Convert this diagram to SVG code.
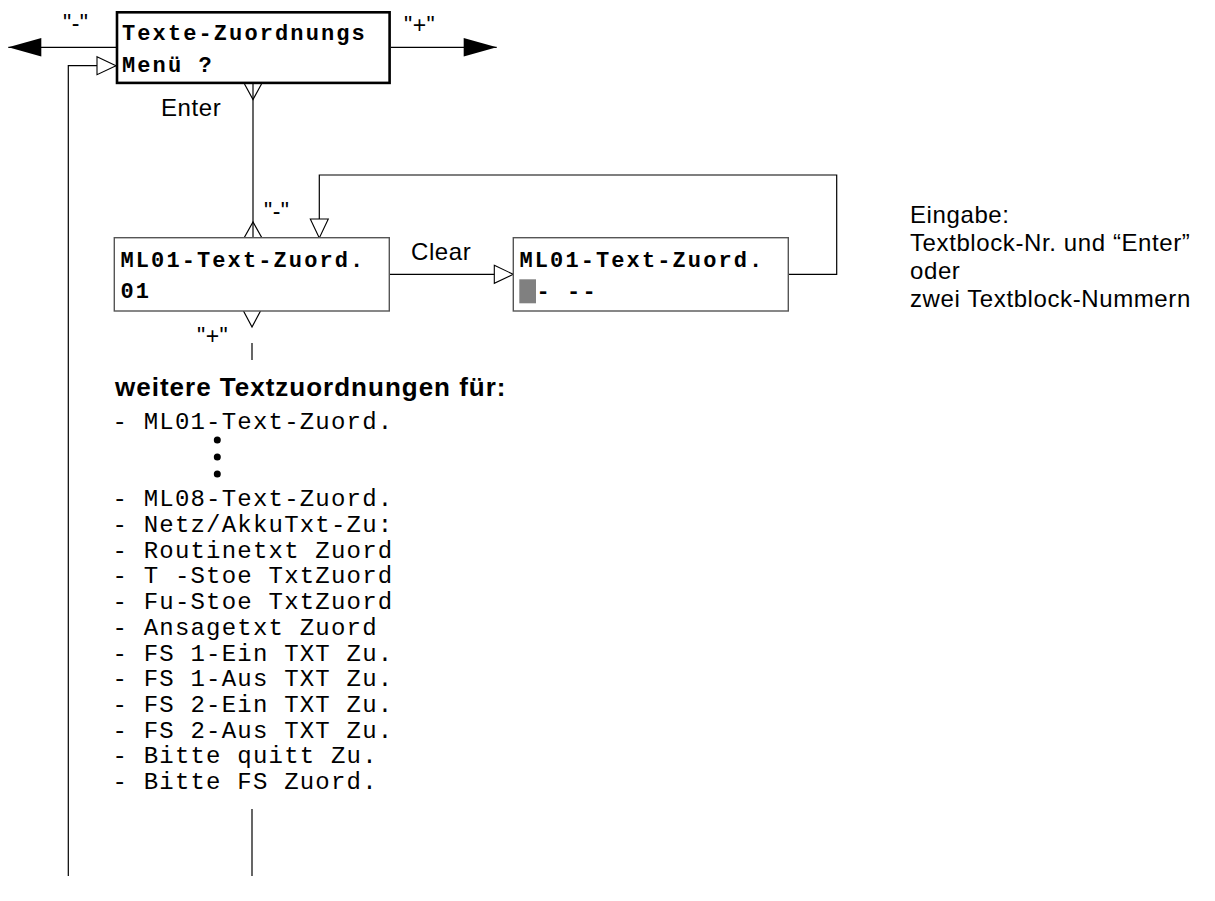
<svg xmlns="http://www.w3.org/2000/svg" width="1215" height="901" viewBox="0 0 1215 901">
<style>
.box{fill:#fff;stroke:#555;stroke-width:1.4}
.boxb{fill:#fff;stroke:#000;stroke-width:2.6}
.ln{fill:none;stroke:#000;stroke-width:1.2}
.mb{font-family:"Liberation Mono","Courier New",monospace;font-weight:bold;font-size:22px;letter-spacing:2.1px;fill:#000}
.mono{font-family:"Liberation Mono","Courier New",monospace;font-size:24px;letter-spacing:1.2px;fill:#000}
.sans{font-family:"Liberation Sans",Arial,sans-serif;font-size:24px;letter-spacing:0.6px;fill:#000}
.q{font-family:"Liberation Sans",Arial,sans-serif;font-size:23px;letter-spacing:0.5px;fill:#000}
</style>
<defs>
<marker id="open" markerUnits="userSpaceOnUse" markerWidth="22" markerHeight="22" refX="19" refY="9" orient="auto" overflow="visible">
<path d="M0,0 L19,9 L0,18 Z" fill="#fff" stroke="#000" stroke-width="1.1"/>
</marker>
<marker id="fill" markerUnits="userSpaceOnUse" markerWidth="36" markerHeight="22" refX="33" refY="9.2" orient="auto" overflow="visible">
<path d="M0,0 L33,9.2 L0,18.4 Z" fill="#000"/>
</marker>
</defs>
<g id="connectors">
<line class="ln" x1="116" y1="47.3" x2="8.3" y2="47.3" marker-end="url(#fill)"/>
<line class="ln" x1="391" y1="47.3" x2="496.7" y2="47.3" marker-end="url(#fill)"/>
<polyline class="ln" points="68.3,876 68.3,65.7 116,65.7" marker-end="url(#open)"/>
<line class="ln" x1="253" y1="84" x2="253" y2="238"/>
<path class="ln" d="M244.5,84 L253,99.5 L261.5,84"/>
<path class="ln" d="M244,238 L253,222 L262,238"/>
<path class="ln" d="M243.5,311 L252,327 L260.5,311"/>
<line class="ln" x1="252" y1="343" x2="252" y2="360"/>
<line class="ln" x1="389.3" y1="274.3" x2="513.3" y2="274.3" marker-end="url(#open)"/>
<polyline class="ln" points="788.3,274.3 836.7,274.3 836.7,175 319.3,175 319.3,238" marker-end="url(#open)"/>
<line class="ln" x1="252" y1="809" x2="252" y2="876"/>
</g>
<g id="menu">
<rect class="boxb" x="117" y="12.3" width="272.6" height="70.6"/>
<text class="mb" x="122" y="40">Texte-Zuordnungs</text>
<text class="mb" x="122" y="72">Menü ?</text>
</g>
<g id="zuord">
<rect class="box" x="114.3" y="237.7" width="275" height="73.3"/>
<text class="mb" x="120.5" y="266.5">ML01-Text-Zuord.</text>
<text class="mb" x="120.5" y="297.5">01</text>
</g>
<g id="zuord-edit">
<rect class="box" x="513.3" y="237.7" width="275" height="73.3"/>
<text class="mb" x="519.5" y="266.5">ML01-Text-Zuord.</text>
<rect x="519.3" y="279.3" width="16.7" height="24" fill="#808080"/>
<text class="mb" x="536.5" y="297.5" xml:space="preserve">- --</text>
</g>
<g id="labels">
<text class="q" x="63" y="31">"-"</text>
<text class="q" x="404" y="33">"+"</text>
<text class="sans" x="161" y="116">Enter</text>
<text class="q" x="264" y="219">"-"</text>
<text class="q" x="197" y="344">"+"</text>
<text class="sans" x="411" y="260">Clear</text>
</g>
<g id="note">
<text class="sans" x="910" y="223">Eingabe:</text>
<text class="sans" x="910" y="251">Textblock-Nr. und “Enter”</text>
<text class="sans" x="910" y="279">oder</text>
<text class="sans" x="910" y="307">zwei Textblock-Nummern</text>
</g>
<g id="list">
<text x="115" y="396" font-family="Liberation Sans,Arial,sans-serif" font-weight="bold" font-size="26" letter-spacing="1">weitere Textzuordnungen für:</text>
<text class="mono" x="112.5" y="429">- ML01-Text-Zuord.</text>
<circle cx="217.3" cy="440" r="3.5"/>
<circle cx="217.3" cy="457" r="3.5"/>
<circle cx="217.3" cy="474" r="3.5"/>
<text class="mono" x="112.5" y="506">- ML08-Text-Zuord.</text>
<text class="mono" x="112.5" y="532">- Netz/AkkuTxt-Zu:</text>
<text class="mono" x="112.5" y="557.5">- Routinetxt Zuord</text>
<text class="mono" x="112.5" y="583">- T -Stoe TxtZuord</text>
<text class="mono" x="112.5" y="609">- Fu-Stoe TxtZuord</text>
<text class="mono" x="112.5" y="635">- Ansagetxt Zuord</text>
<text class="mono" x="112.5" y="660.5">- FS 1-Ein TXT Zu.</text>
<text class="mono" x="112.5" y="686">- FS 1-Aus TXT Zu.</text>
<text class="mono" x="112.5" y="712">- FS 2-Ein TXT Zu.</text>
<text class="mono" x="112.5" y="737.5">- FS 2-Aus TXT Zu.</text>
<text class="mono" x="112.5" y="763">- Bitte quitt Zu.</text>
<text class="mono" x="112.5" y="789">- Bitte FS Zuord.</text>
</g>
</svg>
